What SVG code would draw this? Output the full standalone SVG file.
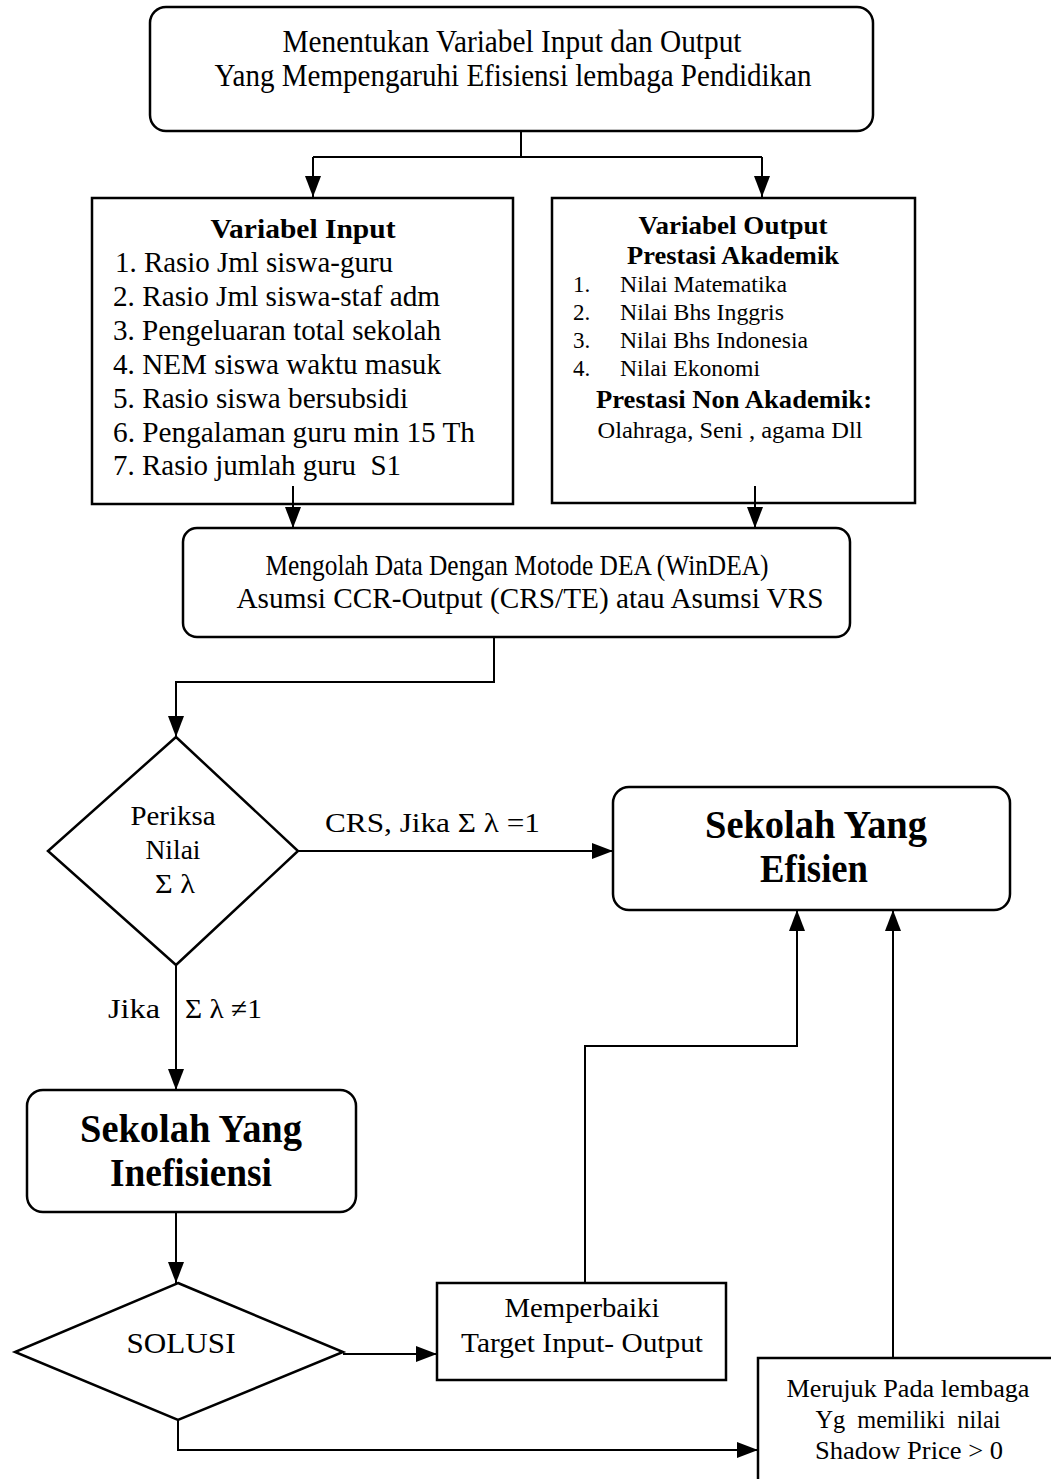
<svg xmlns="http://www.w3.org/2000/svg" width="1051" height="1479" viewBox="0 0 1051 1479">
<style>
.box{fill:#fff;stroke:#000;stroke-width:2.5}
.ln{fill:none;stroke:#000;stroke-width:2}
text{font-family:"Liberation Serif","Times New Roman",serif;fill:#000}
.c{text-anchor:middle}
.b{font-weight:bold}
</style>
<defs>
<marker id="ah" markerUnits="userSpaceOnUse" markerWidth="24" markerHeight="18" refX="21" refY="8" orient="auto">
<path d="M0,0 L21,8 L0,16 z" fill="#000"/>
</marker>
</defs>
<rect width="1051" height="1479" fill="#fff"/>

<g id="n-top">
<rect class="box" x="150" y="7" width="723" height="124" rx="16"/>
<text class="c" x="512" y="52" font-size="31" textLength="459" lengthAdjust="spacingAndGlyphs">Menentukan Variabel Input dan Output</text>
<text class="c" x="513" y="86" font-size="31" textLength="597" lengthAdjust="spacingAndGlyphs">Yang Mempengaruhi Efisiensi lembaga Pendidikan</text>
</g>

<g id="n-input">
<rect class="box" x="92" y="198" width="421" height="306"/>
<text class="c b" x="303" y="238" font-size="28" textLength="185" lengthAdjust="spacingAndGlyphs">Variabel Input</text>
<text x="115" y="272" font-size="30" textLength="278" lengthAdjust="spacingAndGlyphs">1. Rasio Jml siswa-guru</text>
<text x="113" y="306" font-size="30" textLength="327" lengthAdjust="spacingAndGlyphs">2. Rasio Jml siswa-staf adm</text>
<text x="113" y="340" font-size="30" textLength="328" lengthAdjust="spacingAndGlyphs">3. Pengeluaran total sekolah</text>
<text x="113" y="374" font-size="30" textLength="328" lengthAdjust="spacingAndGlyphs">4. NEM siswa waktu masuk</text>
<text x="113" y="408" font-size="30" textLength="295" lengthAdjust="spacingAndGlyphs">5. Rasio siswa bersubsidi</text>
<text x="113" y="442" font-size="30" textLength="362" lengthAdjust="spacingAndGlyphs">6. Pengalaman guru min 15 Th</text>
<text x="113" y="475" font-size="30" textLength="288" lengthAdjust="spacingAndGlyphs" xml:space="preserve">7. Rasio jumlah guru  S1</text>
</g>

<g id="n-output">
<rect class="box" x="552" y="198" width="363" height="305"/>
<text class="c b" x="733" y="234" font-size="25" textLength="189" lengthAdjust="spacingAndGlyphs">Variabel Output</text>
<text class="c b" x="733" y="264" font-size="25" textLength="212" lengthAdjust="spacingAndGlyphs">Prestasi Akademik</text>
<text x="573" y="292" font-size="23">1.</text>
<text x="620" y="292" font-size="23" textLength="167" lengthAdjust="spacingAndGlyphs">Nilai Matematika</text>
<text x="573" y="320" font-size="23">2.</text>
<text x="620" y="320" font-size="23" textLength="164" lengthAdjust="spacingAndGlyphs">Nilai Bhs Inggris</text>
<text x="573" y="348" font-size="23">3.</text>
<text x="620" y="348" font-size="23" textLength="188" lengthAdjust="spacingAndGlyphs">Nilai Bhs Indonesia</text>
<text x="573" y="376" font-size="23">4.</text>
<text x="620" y="376" font-size="23" textLength="140" lengthAdjust="spacingAndGlyphs">Nilai Ekonomi</text>
<text class="c b" x="734" y="408" font-size="25" textLength="276" lengthAdjust="spacingAndGlyphs">Prestasi Non Akademik:</text>
<text class="c" x="730" y="438" font-size="23" textLength="265" lengthAdjust="spacingAndGlyphs">Olahraga, Seni , agama Dll</text>
</g>

<g id="n-dea">
<rect class="box" x="183" y="528" width="667" height="109" rx="14"/>
<text class="c" x="517" y="575" font-size="30" textLength="503" lengthAdjust="spacingAndGlyphs">Mengolah Data Dengan Motode DEA (WinDEA)</text>
<text class="c" x="530" y="608" font-size="30" textLength="587" lengthAdjust="spacingAndGlyphs">Asumsi CCR-Output (CRS/TE) atau Asumsi VRS</text>
</g>

<g id="n-periksa">
<polygon class="box" points="176,737 298,851 176,965 48,851"/>
<text class="c" x="173" y="825" font-size="27" textLength="85" lengthAdjust="spacingAndGlyphs">Periksa</text>
<text class="c" x="173" y="859" font-size="27" textLength="55" lengthAdjust="spacingAndGlyphs">Nilai</text>
<text class="c" x="175" y="893" font-size="27" textLength="40" lengthAdjust="spacingAndGlyphs">Σ λ</text>
</g>

<g id="n-efisien">
<rect class="box" x="613" y="787" width="397" height="123" rx="16"/>
<text class="c b" x="816" y="838" font-size="40" textLength="222" lengthAdjust="spacingAndGlyphs">Sekolah Yang</text>
<text class="c b" x="814" y="882" font-size="40" textLength="108" lengthAdjust="spacingAndGlyphs">Efisien</text>
</g>

<g id="n-inefisiensi">
<rect class="box" x="27" y="1090" width="329" height="122" rx="16"/>
<text class="c b" x="191" y="1142" font-size="40" textLength="222" lengthAdjust="spacingAndGlyphs">Sekolah Yang</text>
<text class="c b" x="191" y="1186" font-size="40" textLength="162" lengthAdjust="spacingAndGlyphs">Inefisiensi</text>
</g>

<g id="n-solusi">
<polygon class="box" points="178,1283 343,1352 178,1420 15,1352"/>
<text class="c" x="181" y="1353" font-size="29" textLength="109" lengthAdjust="spacingAndGlyphs">SOLUSI</text>
</g>

<g id="n-memperbaiki">
<rect class="box" x="437" y="1283" width="289" height="97"/>
<text class="c" x="582" y="1317" font-size="27" textLength="155" lengthAdjust="spacingAndGlyphs">Memperbaiki</text>
<text class="c" x="582" y="1352" font-size="27" textLength="242" lengthAdjust="spacingAndGlyphs">Target Input- Output</text>
</g>

<g id="n-merujuk">
<rect class="box" x="758" y="1358" width="310" height="140"/>
<text class="c" x="908" y="1397" font-size="25" textLength="243" lengthAdjust="spacingAndGlyphs">Merujuk Pada lembaga</text>
<text class="c" x="908" y="1428" font-size="25" textLength="185" lengthAdjust="spacingAndGlyphs" xml:space="preserve">Yg  memiliki  nilai</text>
<text class="c" x="909" y="1459" font-size="25" textLength="188" lengthAdjust="spacingAndGlyphs">Shadow Price &gt; 0</text>
</g>

<g id="connectors">
<path class="ln" d="M521,131 V157"/>
<path class="ln" d="M313,157 H762"/>
<path class="ln" d="M313,157 V197" marker-end="url(#ah)"/>
<path class="ln" d="M762,157 V197" marker-end="url(#ah)"/>
<path class="ln" d="M293,486 V528" marker-end="url(#ah)"/>
<path class="ln" d="M755,486 V528" marker-end="url(#ah)"/>
<path class="ln" d="M494,637 V682 H176 V737" marker-end="url(#ah)"/>
<path class="ln" d="M298,851 H613" marker-end="url(#ah)"/>
<path class="ln" d="M176,965 V1090" marker-end="url(#ah)"/>
<path class="ln" d="M176,1212 V1283" marker-end="url(#ah)"/>
<path class="ln" d="M343,1354 H437" marker-end="url(#ah)"/>
<path class="ln" d="M585,1283 V1046 H797 V910" marker-end="url(#ah)"/>
<path class="ln" d="M893,1358 V910" marker-end="url(#ah)"/>
<path class="ln" d="M178,1420 V1450 H758" marker-end="url(#ah)"/>
<text x="325" y="832" font-size="28" textLength="215" lengthAdjust="spacingAndGlyphs">CRS, Jika Σ λ =1</text>
<text x="108" y="1018" font-size="28" textLength="52" lengthAdjust="spacingAndGlyphs">Jika</text>
<text x="185" y="1018" font-size="28" textLength="77" lengthAdjust="spacingAndGlyphs">Σ λ ≠1</text>
</g>
</svg>
